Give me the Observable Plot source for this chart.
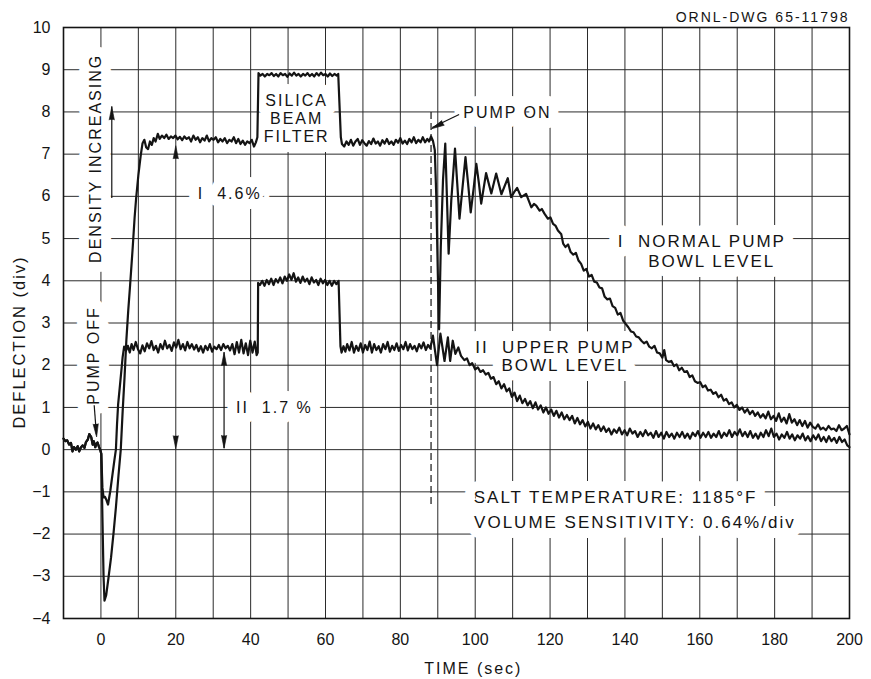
<!DOCTYPE html>
<html>
<head>
<meta charset="utf-8">
<script src="https://cdn.jsdelivr.net/npm/d3@7"></script>
<script src="https://cdn.jsdelivr.net/npm/@observablehq/plot@0.6"></script>
<style>
  body { margin: 0; background: #fff; }
  #chart svg g[aria-label="text"] text { letter-spacing: 2px; }
</style>
</head>
<body>
<div id="chart"></div>
<script>
// Axis ticks and grid
const xTickValues = [0, 20, 40, 60, 80, 100, 120, 140, 160, 180, 200];
const xGridLines = [-10, 0, 10, 20, 30, 40, 50, 60, 70, 80, 90, 100, 110, 120, 130, 140, 150, 160, 170, 180, 190, 200];
const yTickValues = [-4, -3, -2, -1, 0, 1, 2, 3, 4, 5, 6, 7, 8, 9, 10];

// Common trace before the pump is switched off: [time (sec), deflection (div)]
const pumpOffTrace = [
  [-10, 0.26], [-9.5, 0.2], [-9, 0.22], [-8.5, 0.12], [-8, 0.16], [-7.6, -0.04], [-7.2, 0.06], [-6.7, 0.0],
  [-6.2, 0.08], [-5.8, -0.04], [-5.3, 0.06], [-4.9, 0.1], [-4.4, 0.04], [-4, 0.18], [-3.5, 0.24], [-3.1, 0.37],
  [-2.6, 0.3], [-2.2, 0.12], [-1.9, 0.2], [-1.5, 0.06], [-1.2, 0.14], [-0.9, 0.17], [-0.5, 0.06], [-0.2, 0.0], [0.1, -0.1]
];

// I  normal pump bowl level
const normalBowlTrace = [
  [0.4, -1.6], [0.7, -3.0], [0.95, -3.58], [1.4, -3.45], [2, -3.05], [2.7, -2.56], [3.4, -1.95], [4, -1.37],
  [4.7, -0.6], [5.3, 0.0], [5.8, 0.9], [6.3, 1.7], [6.8, 2.6], [7.3, 3.3], [7.8, 3.9], [8.5, 4.8], [9.0, 5.5],
  [9.4, 5.95], [10, 6.5], [10.6, 6.95], [11.1, 7.25], [11.6, 7.34], [12.1, 7.16], [12.6, 7.12], [13.1, 7.3],
  [13.6, 7.22], [14.1, 7.38], [14.6, 7.3], [15.2, 7.48], [15.7, 7.36], [16.3, 7.44], [16.9, 7.38], [17.5, 7.46],
  [18.1, 7.36], [18.7, 7.42], [19.3, 7.38], [19.9, 7.44], [20.5, 7.35], [21.1, 7.41], [21.7, 7.33], [22.3, 7.42],
  [22.9, 7.36], [23.5, 7.4], [24.1, 7.3], [24.7, 7.44], [25.3, 7.34], [25.9, 7.4], [26.5, 7.28], [27.1, 7.38],
  [27.7, 7.32], [28.3, 7.44], [28.9, 7.3], [29.5, 7.38], [30.1, 7.34], [30.7, 7.4], [31.3, 7.28], [31.9, 7.36],
  [32.5, 7.3], [33.1, 7.38], [33.7, 7.26], [34.3, 7.34], [34.9, 7.3], [35.5, 7.4], [36.1, 7.26], [36.7, 7.36],
  [37.3, 7.24], [37.9, 7.32], [38.5, 7.22], [39.1, 7.3], [39.7, 7.26], [40.3, 7.34], [40.9, 7.18], [41.4, 7.28],
  [41.8, 7.4], [42.1, 8.92], [42.6, 8.86], [43.2, 8.9], [43.8, 8.84], [44.4, 8.9], [45, 8.87], [45.6, 8.92],
  [46.2, 8.85], [46.8, 8.9], [47.4, 8.84], [48, 8.92], [48.6, 8.87], [49.2, 8.9], [49.8, 8.83], [50.4, 8.91],
  [51, 8.86], [51.6, 8.93], [52.2, 8.86], [52.8, 8.9], [53.4, 8.84], [54, 8.9], [54.6, 8.86], [55.2, 8.92],
  [55.8, 8.85], [56.4, 8.9], [57, 8.84], [57.6, 8.92], [58.2, 8.86], [58.8, 8.93], [59.4, 8.87], [60, 8.9],
  [60.6, 8.84], [61.2, 8.91], [61.8, 8.85], [62.4, 8.9], [63, 8.86], [63.4, 8.9], [64.1, 7.4], [64.4, 7.24],
  [65, 7.18], [65.6, 7.3], [66.2, 7.22], [66.8, 7.34], [67.4, 7.2], [68, 7.3], [68.6, 7.36], [69.2, 7.22],
  [69.8, 7.33], [70.4, 7.26], [71, 7.2], [71.6, 7.31], [72.2, 7.24], [72.8, 7.37], [73.4, 7.25], [74, 7.3],
  [74.6, 7.2], [75.2, 7.33], [75.8, 7.25], [76.4, 7.36], [77, 7.24], [77.6, 7.3], [78.2, 7.22], [78.8, 7.34],
  [79.4, 7.27], [80, 7.38], [80.6, 7.25], [81.2, 7.32], [81.8, 7.24], [82.4, 7.36], [83, 7.28], [83.6, 7.4],
  [84.2, 7.26], [84.8, 7.34], [85.4, 7.28], [86, 7.4], [86.6, 7.28], [87.2, 7.36], [87.7, 7.3], [88.2, 7.42],
  [88.7, 7.32], [89.2, 7.1], [89.6, 6.0], [90, 4.2], [90.35, 2.85], [90.8, 4.8], [91.4, 6.4], [92.0, 7.25],
  [92.5, 5.8], [92.9, 4.64], [93.6, 5.9], [94.6, 7.13], [95.2, 6.3], [95.8, 5.47], [96.6, 6.2], [97.4, 6.93],
  [98.1, 6.3], [98.8, 5.62], [99.6, 6.2], [100.3, 6.77], [101, 6.3], [101.6, 5.83], [102.9, 6.55], [104.3, 6.07],
  [105.6, 6.54], [107, 6.05], [108.7, 6.43], [109.6, 5.98], [110.4, 6.1], [111.2, 6.2], [112.3, 5.98], [113.6, 6.06],
  [114.3, 5.9], [115, 5.74], [115.7, 5.82], [116.3, 5.78], [117.2, 5.66], [117.8, 5.7], [118.5, 5.59], [119.4, 5.47],
  [120.1, 5.5], [120.8, 5.35], [121.5, 5.3], [122.1, 5.19], [123, 5.1], [123.5, 4.88], [124.1, 4.8], [124.8, 4.86],
  [125.5, 4.68], [126.2, 4.62], [126.9, 4.66], [127.6, 4.48], [128.3, 4.4], [129, 4.24], [129.7, 4.28], [130.4, 4.1],
  [131.1, 4.14], [131.8, 3.98], [132.5, 3.96], [133.2, 3.84], [133.9, 3.82], [134.6, 3.62], [135.3, 3.56], [136, 3.58],
  [136.7, 3.4], [137.4, 3.36], [138.1, 3.2], [138.8, 3.24], [139.5, 3.06], [140.2, 2.98], [140.9, 2.9], [141.6, 2.8],
  [142.3, 2.78], [143, 2.68], [143.7, 2.66], [144.4, 2.58], [145.1, 2.52], [145.8, 2.56], [146.5, 2.44], [147.2, 2.4],
  [147.9, 2.46], [148.6, 2.3], [149.3, 2.28], [150, 2.18], [150.5, 2.36], [151, 2.12], [151.7, 2.08], [152.4, 2.1],
  [153.1, 1.98], [153.8, 2.02], [154.5, 1.88], [155.2, 1.94], [155.9, 1.84], [156.6, 1.86], [157.3, 1.72], [158, 1.76],
  [158.7, 1.62], [159.4, 1.58], [160.1, 1.6], [160.8, 1.48], [161.5, 1.52], [162.2, 1.4], [162.9, 1.42], [163.6, 1.32],
  [164.3, 1.36], [165, 1.24], [165.7, 1.3], [166.4, 1.16], [167.1, 1.2], [167.8, 1.08], [168.5, 1.12], [169.2, 1.0],
  [169.9, 1.06], [170.6, 0.94], [171.3, 1.0], [172, 0.88], [172.7, 0.96], [173.4, 0.84], [174.1, 0.92], [174.8, 0.8],
  [175.5, 0.88], [176.2, 0.76], [176.9, 0.84], [177.6, 0.74], [178.3, 0.9], [179, 0.72], [179.7, 0.8], [180.4, 0.68],
  [181.1, 0.86], [181.8, 0.66], [182.5, 0.76], [183.2, 0.62], [183.9, 0.84], [184.6, 0.64], [185.3, 0.72], [186, 0.58],
  [186.7, 0.7], [187.4, 0.56], [188.1, 0.68], [188.8, 0.52], [189.5, 0.64], [190.2, 0.54], [190.9, 0.5], [191.6, 0.6],
  [192.3, 0.48], [193, 0.52], [193.7, 0.46], [194.4, 0.56], [195.1, 0.48], [195.8, 0.5], [196.5, 0.44], [197.2, 0.58],
  [197.9, 0.46], [198.6, 0.5], [199.3, 0.56], [200, 0.36]
];

// II  upper pump bowl level
const upperBowlTrace = [
  [0.4, -0.9], [0.7, -1.13], [1.1, -1.12], [1.5, -1.2], [1.9, -1.3], [2.5, -0.98], [3.1, -0.58], [3.6, -0.25],
  [4.0, 0.0], [4.3, 0.6], [4.6, 1.08], [5.2, 1.63], [5.8, 2.19], [6.2, 2.44], [6.7, 2.34], [7.2, 2.46], [7.7, 2.3],
  [8.2, 2.5], [8.7, 2.36], [9.3, 2.55], [9.9, 2.38], [10.5, 2.28], [11.1, 2.47], [11.7, 2.33], [12.3, 2.52],
  [12.9, 2.4], [13.5, 2.57], [14.1, 2.36], [14.7, 2.46], [15.3, 2.3], [15.9, 2.5], [16.5, 2.38], [17.1, 2.58],
  [17.7, 2.4], [18.3, 2.48], [18.9, 2.34], [19.5, 2.54], [20.1, 2.42], [20.7, 2.6], [21.3, 2.38], [21.9, 2.5],
  [22.5, 2.35], [23.1, 2.55], [23.7, 2.4], [24.3, 2.5], [24.9, 2.37], [25.5, 2.48], [26.1, 2.33], [26.7, 2.45],
  [27.3, 2.3], [27.9, 2.46], [28.5, 2.36], [29.1, 2.5], [29.7, 2.32], [30.3, 2.44], [30.9, 2.38], [31.5, 2.48],
  [32.1, 2.36], [32.7, 2.5], [33.3, 2.4], [33.9, 2.46], [34.5, 2.35], [35.1, 2.5], [35.7, 2.26], [36.3, 2.55],
  [36.9, 2.3], [37.5, 2.6], [38.1, 2.28], [38.7, 2.52], [39.3, 2.24], [39.9, 2.58], [40.5, 2.3], [41.1, 2.56],
  [41.6, 2.24], [41.9, 2.3], [42.0, 3.95], [42.5, 3.9], [43.1, 4.0], [43.7, 3.88], [44.3, 4.02], [44.9, 3.92],
  [45.5, 4.05], [46.1, 3.9], [46.7, 4.04], [47.3, 3.96], [47.9, 4.08], [48.5, 3.94], [49.1, 4.1], [49.7, 4.0],
  [50.3, 4.15], [50.9, 4.02], [51.5, 4.18], [52.1, 3.98], [52.7, 4.08], [53.3, 3.95], [53.9, 4.1], [54.5, 3.98],
  [55.1, 4.05], [55.7, 3.92], [56.3, 4.08], [56.9, 3.96], [57.5, 4.02], [58.1, 3.9], [58.7, 4.05], [59.3, 3.94],
  [59.9, 4.02], [60.5, 3.9], [61.1, 4.0], [61.7, 3.88], [62.3, 4.0], [62.9, 3.92], [63.5, 4.0], [64.0, 2.45],
  [64.3, 2.3], [64.8, 2.45], [65.3, 2.32], [65.8, 2.5], [66.4, 2.35], [67, 2.55], [67.6, 2.3], [68.2, 2.46],
  [68.8, 2.34], [69.4, 2.52], [70, 2.3], [70.6, 2.48], [71.2, 2.36], [71.8, 2.56], [72.4, 2.3], [73, 2.5],
  [73.6, 2.36], [74.2, 2.45], [74.8, 2.3], [75.4, 2.5], [76, 2.38], [76.6, 2.55], [77.2, 2.32], [77.8, 2.46],
  [78.4, 2.36], [79, 2.52], [79.6, 2.34], [80.2, 2.48], [80.8, 2.38], [81.4, 2.55], [82, 2.35], [82.6, 2.5],
  [83.2, 2.38], [83.8, 2.46], [84.4, 2.33], [85, 2.5], [85.6, 2.4], [86.2, 2.54], [86.8, 2.36], [87.4, 2.48],
  [88, 2.4], [88.7, 2.7], [89.8, 2.0], [90.7, 2.75], [91.8, 2.1], [92.7, 2.66], [93.3, 2.1], [94, 2.58],
  [94.7, 2.27], [95.5, 2.42], [96.2, 2.22], [97.1, 2.12], [97.8, 2.16], [98.5, 2.0], [99.2, 2.05], [100, 1.9],
  [100.7, 1.95], [101.4, 1.84], [102.1, 1.88], [102.8, 1.78], [103.5, 1.82], [104.2, 1.68], [104.9, 1.72], [105.6, 1.55],
  [106.3, 1.62], [107, 1.45], [107.7, 1.55], [108.4, 1.38], [109.1, 1.45], [109.8, 1.25], [110.5, 1.35], [111.2, 1.15],
  [111.9, 1.28], [112.6, 1.1], [113.3, 1.2], [114, 1.05], [114.7, 1.15], [115.4, 0.98], [116.1, 1.12], [116.8, 0.95],
  [117.5, 1.05], [118.2, 0.88], [118.9, 1.0], [119.6, 0.85], [120.3, 0.95], [121, 0.8], [121.7, 0.92], [122.4, 0.76],
  [123.1, 0.88], [123.8, 0.72], [124.5, 0.82], [125.2, 0.7], [125.9, 0.8], [126.6, 0.62], [127.3, 0.75], [128, 0.6],
  [128.7, 0.7], [129.4, 0.55], [130.1, 0.66], [130.8, 0.5], [131.5, 0.62], [132.2, 0.48], [132.9, 0.58], [133.6, 0.44],
  [134.3, 0.55], [135, 0.42], [135.7, 0.5], [136.4, 0.36], [137.1, 0.48], [137.8, 0.4], [138.5, 0.52], [139.2, 0.36],
  [139.9, 0.46], [140.6, 0.34], [141.3, 0.5], [142, 0.38], [142.7, 0.44], [143.4, 0.3], [144.1, 0.42], [144.8, 0.32],
  [145.5, 0.46], [146.2, 0.34], [146.9, 0.4], [147.6, 0.28], [148.3, 0.44], [149, 0.3], [149.7, 0.4], [150.4, 0.26],
  [151.1, 0.42], [151.8, 0.3], [152.5, 0.38], [153.2, 0.26], [153.9, 0.4], [154.6, 0.3], [155.3, 0.42], [156, 0.28],
  [156.7, 0.38], [157.4, 0.26], [158.1, 0.4], [158.8, 0.32], [159.5, 0.44], [160.2, 0.28], [160.9, 0.4], [161.6, 0.3],
  [162.3, 0.42], [163, 0.28], [163.7, 0.38], [164.4, 0.3], [165.1, 0.44], [165.8, 0.28], [166.5, 0.4], [167.2, 0.32],
  [167.9, 0.46], [168.6, 0.3], [169.3, 0.42], [170, 0.34], [170.7, 0.48], [171.4, 0.32], [172.1, 0.42], [172.8, 0.3],
  [173.5, 0.44], [174.2, 0.28], [174.9, 0.38], [175.6, 0.26], [176.3, 0.4], [177, 0.3], [177.7, 0.46], [178.4, 0.32],
  [179.1, 0.5], [179.8, 0.3], [180.5, 0.38], [181.2, 0.24], [181.9, 0.36], [182.6, 0.28], [183.3, 0.42], [184, 0.26],
  [184.7, 0.36], [185.4, 0.22], [186.1, 0.34], [186.8, 0.26], [187.5, 0.38], [188.2, 0.22], [188.9, 0.32], [189.6, 0.2],
  [190.3, 0.34], [191, 0.24], [191.7, 0.36], [192.4, 0.2], [193.1, 0.3], [193.8, 0.18], [194.5, 0.32], [195.2, 0.2],
  [195.9, 0.28], [196.6, 0.16], [197.3, 0.3], [198, 0.18], [198.7, 0.24], [199.4, 0.1], [200, 0.06]
];

// Event and measurement markers
const pumpOnTime = 88.2;
const pumpOnMarkerSpan = [-1.3, 8.0];
const levelChangeI = {t: 20, from: 0.02, to: 7.2};
const levelChangeII = {t: 32.9, from: 0.03, to: 2.3};
const densityArrow = {t: 2.9, from: 5.95, to: 8.12};

// Labels placed in data coordinates (left-aligned unless noted)
const smallNotes = [
  {x: 96.8, y: 7.97, label: "PUMP ON"},
  {x: 25.9, y: 6.05, label: "I  4.6%"},
  {x: 36.1, y: 1.0, label: "II  1.7 %"}
];
const largeNotes = [
  {x: 138.1, y: 4.93, label: "I  NORMAL PUMP"},
  {x: 146.2, y: 4.45, label: "BOWL LEVEL"},
  {x: 100, y: 2.43, label: "II  UPPER PUMP"},
  {x: 107, y: 1.99, label: "BOWL LEVEL"},
  {x: 99.6, y: -1.14, label: "SALT TEMPERATURE: 1185°F"},
  {x: 99.7, y: -1.72, label: "VOLUME SENSITIVITY: 0.64%/div"}
];
const filterNote = [
  {x: 52.3, y: 8.27, label: "SILICA"},
  {x: 52.3, y: 7.84, label: "BEAM"},
  {x: 52.3, y: 7.4, label: "FILTER"}
];
const verticalNotes = [
  {x: -1.3, y: 6.9, label: "DENSITY INCREASING"},
  {x: -1.8, y: 2.23, label: "PUMP OFF"}
];
const pointerLines = [
  {x1: 95.7, y1: 7.94, x2: 88.5, y2: 7.63},
  {x1: -1.8, y1: 1.05, x2: -1.2, y2: 0.36}
];
const arrowHeads = [
  {x: densityArrow.t, y: densityArrow.to, angle: 0},
  {x: levelChangeI.t, y: levelChangeI.to, angle: 0},
  {x: levelChangeI.t, y: levelChangeI.from, angle: 180},
  {x: levelChangeII.t, y: levelChangeII.to, angle: 0},
  {x: levelChangeII.t, y: levelChangeII.from, angle: 180},
  {x: 88.3, y: 7.6, angle: 243},
  {x: -1.15, y: 0.3, angle: 176}
];

const rows = (pairs) => pairs.map(([t, v]) => ({t, v}));
const normalRows = rows(pumpOffTrace.concat(normalBowlTrace));
const upperRows = rows(pumpOffTrace.concat(upperBowlTrace));

const ink = "#141414";
const font = "'Liberation Sans', Arial, sans-serif";

// Each label group is drawn twice: first as a wide white outline that
// breaks the grid behind the lettering, then as plain lettering on top.
const labelLayers = (data, options) => [
  Plot.text(data, {...options, fill: "white", stroke: "white", strokeWidth: 20, strokeLinejoin: "round"}),
  Plot.text(data, {...options, fill: ink})
];
const noteGroups = [
  [smallNotes, {textAnchor: "start", fontSize: 16}],
  [largeNotes, {textAnchor: "start", fontSize: 17}],
  [filterNote, {textAnchor: "middle", fontSize: 16}],
  [verticalNotes, {rotate: -90, fontSize: 16}]
];
const haloMarks = noteGroups.map(([d, o]) => labelLayers(d, {x: "x", y: "y", text: "label", fontFamily: font, ...o})[0]);
const letterMarks = noteGroups.map(([d, o]) => labelLayers(d, {x: "x", y: "y", text: "label", fontFamily: font, ...o})[1]);

const chart = Plot.plot({
  width: 871,
  height: 679,
  marginTop: 27,
  marginRight: 22,
  marginBottom: 61,
  marginLeft: 63,
  style: {fontFamily: font, fontSize: "16px", color: ink, background: "#fff", overflow: "visible"},
  x: {domain: [-10, 200], ticks: xTickValues, tickSize: 0, tickPadding: 15, label: null},
  y: {domain: [-4, 10], ticks: yTickValues, tickSize: 0, tickPadding: 13, label: null},
  marks: [
    Plot.ruleX(xGridLines, {stroke: "#2b2b2b", strokeWidth: 1}),
    Plot.ruleY(yTickValues, {stroke: "#2b2b2b", strokeWidth: 1}),

    ...haloMarks,
    ...letterMarks,

    Plot.ruleX([pumpOnTime], {y1: pumpOnMarkerSpan[0], y2: pumpOnMarkerSpan[1], stroke: ink, strokeWidth: 1.2, strokeDasharray: "7,4"}),
    Plot.ruleX([densityArrow], {x: "t", y1: "from", y2: "to", stroke: ink, strokeWidth: 1.2}),
    Plot.ruleX([levelChangeII], {x: "t", y1: "from", y2: "to", stroke: ink, strokeWidth: 1.2}),
    Plot.link(pointerLines, {x1: "x1", y1: "y1", x2: "x2", y2: "y2", stroke: ink, strokeWidth: 1.2}),

    Plot.line(upperRows, {x: "t", y: "v", stroke: ink, strokeWidth: 2.2, strokeLinejoin: "round"}),
    Plot.line(normalRows, {x: "t", y: "v", stroke: ink, strokeWidth: 2.2, strokeLinejoin: "round"}),

    Plot.vector(arrowHeads, {x: "x", y: "y", rotate: "angle", length: 13, r: 2.6, shape: "spike", anchor: "end", fill: ink, stroke: ink, strokeWidth: 0.6}),

    Plot.text(["ORNL-DWG 65-11798"], {x: 200, y: 10, text: d => d, textAnchor: "end", dy: -10, fontSize: 14, fontFamily: font, fill: ink}),
    Plot.text(["TIME (sec)"], {x: 99.5, y: -4, text: d => d, dy: 50, fontSize: 16, fontFamily: font, fill: ink}),
    Plot.text(["DEFLECTION (div)"], {x: -10, y: 2.55, text: d => d, dx: -44, rotate: -90, fontSize: 16.5, fontFamily: font, fill: ink}),

    Plot.frame({stroke: ink, strokeWidth: 1.6})
  ]
});

document.getElementById("chart").append(chart);
</script>
</body>
</html>
